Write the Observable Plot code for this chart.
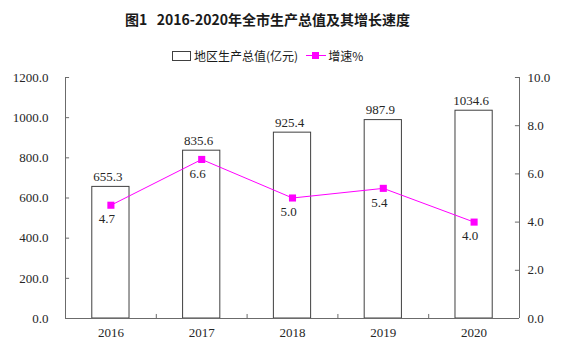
<!DOCTYPE html>
<html>
<head>
<meta charset="utf-8">
<script src="https://cdn.jsdelivr.net/npm/d3@7"></script>
<script src="https://cdn.jsdelivr.net/npm/@observablehq/plot@0.6"></script>
<style>
  html, body { margin: 0; padding: 0; background: #fff; }
  #wrap { position: relative; width: 571px; height: 352px; overflow: hidden; }
  #title { position: absolute; left: 125px; top: 9px; font: bold 14px "Noto Sans CJK SC", sans-serif; color: #1a1a1a; white-space: pre; }
  #legend { position: absolute; left: 172px; top: 47px; font: 12px "Noto Sans CJK SC", sans-serif; color: #1a1a1a; display: flex; align-items: center; white-space: pre; }
  .lrect { width: 17px; height: 8px; border: 1px solid #404040; margin-right: 3px; }
  .lline { position: relative; width: 20px; height: 10px; margin-left: 8px; margin-right: 2px; }
  .lline::before { content: ""; position: absolute; left: 0; right: 0; top: 4.5px; height: 1px; background: #ff00ff; }
  .lline::after { content: ""; position: absolute; left: 6px; top: 1.5px; width: 7px; height: 7px; background: #ff00ff; }
  #chart { position: absolute; left: 0; top: 66px; }
</style>
</head>
<body>
<div id="wrap">
  <div id="title">图1   2016-2020年全市生产总值及其增长速度</div>
  <div id="legend"><span class="lrect"></span><span>地区生产总值(亿元)</span><span class="lline"></span><span>增速%</span></div>
  <div id="chart"></div>
</div>
<script>
const years = ["2016", "2017", "2018", "2019", "2020"];
const gdp = [655.3, 835.6, 925.4, 987.9, 1034.6];
const growth = [4.7, 6.6, 5.0, 5.4, 4.0];
const leftTicks = [0, 200, 400, 600, 800, 1000, 1200];
const rightTicks = [0, 2, 4, 6, 8, 10];

const k = 1200 / 10; // right axis scale factor
const half = 0.205;   // half bar width in band units
const stub = 0.045;   // tick length in band units
const data = years.map((y, i) => ({year: y, i, gdp: gdp[i], rate: growth[i]}));

const axisColor = "#6b6b6b";
const textColor = "#262626";

const chart = Plot.plot({
  width: 571,
  height: 286,
  marginTop: 11,
  marginBottom: 34,
  marginLeft: 65,
  marginRight: 52,
  style: {fontFamily: "'Liberation Serif', serif", fontSize: "13px", color: textColor, background: "transparent"},
  x: {domain: [0, 5], axis: null},
  y: {domain: [0, 1200], axis: null},
  marks: [
    Plot.rectY(data, {x1: d => d.i + 0.5 - half, x2: d => d.i + 0.5 + half, y1: 0, y2: "gdp", fill: "white", stroke: "#404040", strokeWidth: 1}),
    Plot.ruleY(leftTicks, {x1: 0, x2: stub, stroke: axisColor}),
    Plot.ruleY(rightTicks.map(v => v * k), {x1: 5 - stub, x2: 5, stroke: axisColor}),
    Plot.ruleX([1, 2, 3, 4], {y1: 0, y2: 20, stroke: axisColor}),
    Plot.ruleX([0, 5], {stroke: axisColor}),
    Plot.ruleY([0], {stroke: axisColor}),
    Plot.axisX({ticks: data.map(d => d.i + 0.5), tickFormat: v => years[Math.floor(v)], tickSize: 0, tickPadding: 9, fill: textColor, label: null}),
    Plot.axisY({anchor: "left", ticks: leftTicks, tickFormat: d => d.toFixed(1), tickSize: 0, tickPadding: 17, fill: textColor, label: null}),
    Plot.axisY({anchor: "right", ticks: rightTicks.map(v => v * k), tickFormat: v => (v / k).toFixed(1), tickSize: 0, tickPadding: 8, fill: textColor, label: null}),
    Plot.text(data, {x: d => d.i + 0.5, y: "gdp", text: d => d.gdp.toFixed(1), dy: -10, dx: -3, fill: textColor}),
    Plot.line(data, {x: d => d.i + 0.5, y: d => d.rate * k, stroke: "#ff00ff", strokeWidth: 1}),
    Plot.dot(data, {x: d => d.i + 0.5, y: d => d.rate * k, symbol: "square", r: 4, fill: "#ff00ff", stroke: "none"}),
    Plot.text(data, {x: d => d.i + 0.5, y: d => d.rate * k, text: d => d.rate.toFixed(1), dy: 14, dx: -4, fill: textColor})
  ]
});
document.getElementById("chart").appendChild(chart);
</script>
</body>
</html>
